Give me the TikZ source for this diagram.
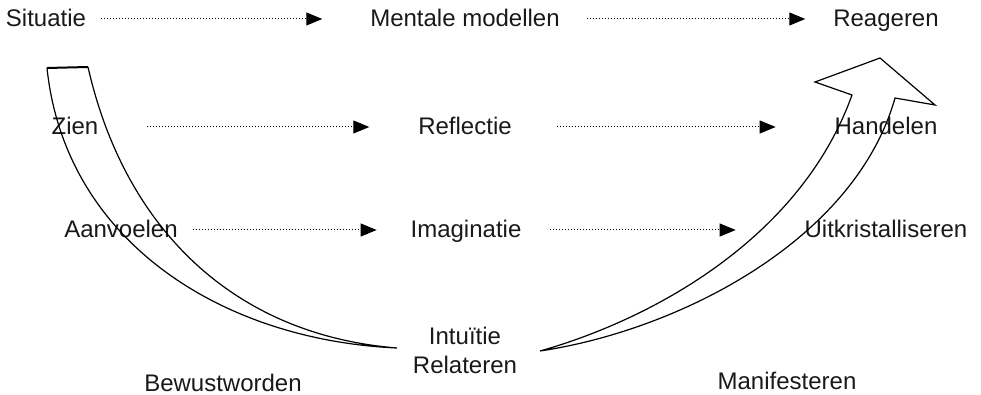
\documentclass[tikz,border=0pt]{standalone}
\usepackage{fontspec}
\setmainfont{Liberation Sans}
\usetikzlibrary{arrows.meta}

\begin{document}
\begin{tikzpicture}[x=0.5pt, y=-0.5pt,
  txt/.style={font=\fontsize{12}{14.5}\selectfont, text=black!90, inner sep=0pt, outer sep=0pt},
  lbl/.style={txt, anchor=base, text height=9pt, text depth=1pt},
  flow/.style={-{Triangle[length=8pt, width=6.5pt]}, line width=0.5pt, dash pattern=on 0.5pt off 1pt},
  band/.style={line width=0.6pt, line join=miter}
]
  \useasboundingbox (0,0) rectangle (981,395);

  \node[lbl] (situatie) at (46,27) {Situatie};
  \node[lbl] (mentaal) at (465,27) {Mentale modellen};
  \node[lbl] (reageren) at (886,27) {Reageren};
  \node[lbl] (zien) at (75,135) {Zien};
  \node[lbl] (reflectie) at (465,135) {Reflectie};
  \node[lbl] (handelen) at (886,135) {Handelen};
  \node[lbl] (aanvoelen) at (121,238) {Aanvoelen};
  \node[lbl] (imaginatie) at (466,238) {Imaginatie};
  \node[lbl] (uitkrist) at (886,238) {Uitkristalliseren};
  \node[txt, align=center, anchor=north] (intuitie) at (465,327) {Intuïtie\\Relateren};
  \node[lbl] (bewust) at (223,392) {Bewustworden};
  \node[lbl] (manifest) at (787,390) {Manifesteren};

  \draw[flow, shorten <=7.5pt, shorten >=24pt] (situatie.east) -- (mentaal.west);
  \draw[flow, shorten <=13.5pt, shorten >=14pt] (mentaal.east) -- (reageren.west);
  \draw[flow, shorten <=24.5pt, shorten >=24.5pt] (zien.east) -- (reflectie.west);
  \draw[flow, shorten <=22.5pt, shorten >=29.5pt] (reflectie.east) -- (handelen.west);
  \draw[flow, shorten <=7.5pt, shorten >=17pt] (aanvoelen.east) -- (imaginatie.west);
  \draw[flow, shorten <=14.5pt, shorten >=34.5pt] (imaginatie.east) -- (uitkrist.west);

  % left band, going down
  \draw[band] (88,67) .. controls (125,230) and (235,335) .. (397,348)
    .. controls (220,340) and (65,240) .. (47,68);
  \draw[line width=1pt] (47,68) -- (88,67);

  % right band with open arrow head
  \draw[band] (540,351) .. controls (650,320) and (800,240) .. (852,95)
    -- (815,82) -- (880,58) -- (935,105) -- (895,98)
    .. controls (855,240) and (680,330) .. (540,351) -- cycle;
\end{tikzpicture}
\end{document}
